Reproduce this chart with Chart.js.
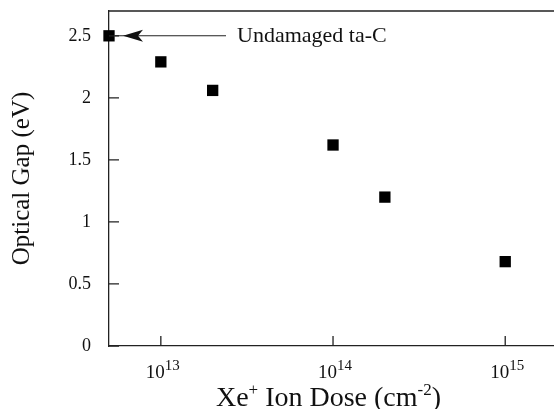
<!DOCTYPE html>
<html>
<head>
<meta charset="utf-8">
<script src="https://cdn.jsdelivr.net/npm/chart.js@4"></script>
<style>
  html, body { margin: 0; padding: 0; background: #fff; }
</style>
</head>
<body>
<canvas id="gap" width="554" height="409"></canvas>
<script>
// Xe+ ion dose (cm^-2) and the measured optical gap (eV)
const doses = [5e12, 1e13, 2e13, 1e14, 2e14, 1e15];
const gaps = [2.5, 2.29, 2.06, 1.62, 1.2, 0.68];
const xTickValues = [1e13, 1e14, 1e15];
const yTickValues = [0, 0.5, 1, 1.5, 2, 2.5];
const annotationText = "Undamaged ta-C";

const SERIF = "'Liberation Serif', 'DejaVu Serif', serif";
const INK = "#111";

// draw a run of text with superscript parts, centred on cx
function drawRich(ctx, parts, cx, baseline, size, supSize, rise) {
  const widths = parts.map((p) => {
    ctx.font = (p.sup ? supSize : size) + "px " + SERIF;
    return ctx.measureText(p.t).width;
  });
  let x = cx - widths.reduce((a, b) => a + b, 0) / 2;
  parts.forEach((p, i) => {
    ctx.font = (p.sup ? supSize : size) + "px " + SERIF;
    ctx.fillText(p.t, x, p.sup ? baseline - rise : baseline);
    x += widths[i];
  });
}

function noPadding(scale) {
  scale.paddingTop = 0;
  scale.paddingBottom = 0;
  scale.paddingLeft = 0;
  scale.paddingRight = 0;
}

const framePlugin = {
  id: "frame",
  afterDraw(chart) {
    const { ctx, chartArea: area, scales } = chart;
    const xs = scales.x;
    const ys = scales.y;
    ctx.save();
    ctx.strokeStyle = "#222";
    ctx.lineWidth = 1.3;
    ctx.beginPath();
    ctx.moveTo(area.left, area.top);
    ctx.lineTo(area.right, area.top);
    // inward ticks
    yTickValues.forEach((v) => {
      const y = ys.getPixelForValue(v);
      ctx.moveTo(area.left, y);
      ctx.lineTo(area.left + 10, y);
    });
    xTickValues.forEach((v) => {
      const x = xs.getPixelForValue(v);
      ctx.moveTo(x, area.bottom);
      ctx.lineTo(x, area.bottom - 10);
    });
    ctx.stroke();

    ctx.fillStyle = INK;
    ctx.textBaseline = "alphabetic";
    ctx.textAlign = "left";
    xTickValues.forEach((v) => {
      const exp = String(Math.round(Math.log10(v)));
      drawRich(ctx, [{ t: "10" }, { t: exp, sup: true }], xs.getPixelForValue(v) + 2, area.bottom + 32, 19, 15, 8);
    });
    drawRich(
      ctx,
      [{ t: "Xe" }, { t: "+", sup: true }, { t: " Ion Dose (cm" }, { t: "-2", sup: true }, { t: ")" }],
      (area.left + area.right) / 2 - 3,
      area.bottom + 60,
      28, 17, 11
    );

    // arrow pointing at the undamaged sample
    const px = xs.getPixelForValue(doses[0]);
    const py = ys.getPixelForValue(gaps[0]);
    ctx.beginPath();
    ctx.lineWidth = 1.1;
    ctx.moveTo(px + 6, py);
    ctx.lineTo(px + 117, py);
    ctx.stroke();
    ctx.beginPath();
    ctx.moveTo(px + 14, py);
    ctx.lineTo(px + 34, py - 6);
    ctx.lineTo(px + 29, py);
    ctx.lineTo(px + 34, py + 6);
    ctx.closePath();
    ctx.fill();
    ctx.font = "22px " + SERIF;
    ctx.fillText(annotationText, px + 128, py + 6);
    ctx.restore();
  },
};

const gapChart = new Chart(document.getElementById("gap"), {
  type: "scatter",
  data: {
    datasets: [
      {
        label: "Optical gap",
        data: doses.map((d, i) => ({ x: d, y: gaps[i] })),
        pointStyle: "rect",
        pointRadius: 8,
        backgroundColor: "#000",
        borderColor: "#000",
        borderWidth: 0,
        clip: false,
      },
    ],
  },
  options: {
    responsive: false,
    animation: false,
    layout: { autoPadding: false, padding: { top: 11, right: 0, bottom: 0, left: 0 } },
    plugins: { legend: { display: false }, tooltip: { enabled: false } },
    scales: {
      x: {
        type: "logarithmic",
        min: 5e12,
        max: 1.92e15,
        afterFit(scale) {
          scale.height = 63;
          noPadding(scale);
        },
        afterBuildTicks(scale) {
          scale.ticks = xTickValues.map((v) => ({ value: v }));
        },
        ticks: { display: false },
        grid: { display: false, drawTicks: false },
        border: { display: true, color: "#222", width: 1.3 },
      },
      y: {
        min: 0,
        max: 2.7,
        afterFit(scale) {
          scale.width = 109;
          noPadding(scale);
        },
        afterBuildTicks(scale) {
          scale.ticks = yTickValues.map((v) => ({ value: v }));
        },
        ticks: {
          color: INK,
          padding: 18,
          font: { family: SERIF, size: 18 },
          callback: (v) => String(v),
        },
        grid: { display: false, drawTicks: false },
        border: { display: true, color: "#222", width: 1.3 },
        title: {
          display: true,
          text: "Optical Gap (eV)",
          color: INK,
          font: { family: SERIF, size: 25 },
          padding: { top: 7, bottom: 0 },
        },
      },
    },
  },
  plugins: [framePlugin],
});
</script>
</body>
</html>
